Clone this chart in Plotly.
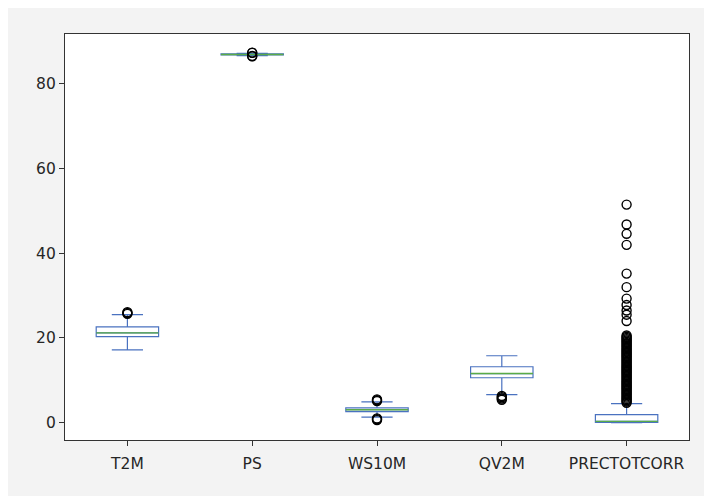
import plotly.graph_objects as go

# ---- data ----
categories = ["T2M", "PS", "WS10M", "QV2M", "PRECTOTCORR"]
q1 = [20.3, 86.85, 2.6, 10.6, 0.05]
median = [21.2, 86.97, 3.05, 11.6, 0.3]
q3 = [22.6, 87.1, 3.5, 13.2, 1.9]
lower_whisker = [17.2, 86.7, 1.3, 6.6, 0.0]
upper_whisker = [25.5, 87.25, 4.9, 15.8, 4.5]

outliers_t2m = [25.7, 25.9, 26.1]
outliers_ps = [86.55, 86.6, 87.35, 87.4]
outliers_ws10m = [0.6, 0.8, 1.0, 5.1, 5.3, 5.5]
outliers_qv2m = [5.4, 5.7, 6.0, 6.3]
outliers_prec = [4.7, 5.0, 5.3, 5.6, 5.9, 6.2, 6.5, 6.8, 7.1, 7.4, 7.7, 8.0,
                 8.3, 8.6, 8.9, 9.2, 9.5, 9.8, 10.1, 10.4, 10.7, 11.0, 11.3,
                 11.6, 11.9, 12.2, 12.5, 12.8, 13.1, 13.4, 13.7, 14.0, 14.3,
                 14.6, 14.9, 15.2, 15.5, 15.8, 16.1, 16.4, 16.7, 17.0, 17.3,
                 17.6, 17.9, 18.2, 18.5, 18.8, 19.1, 19.4, 19.7, 20.0, 20.3,
                 20.6, 24.0, 25.5, 26.5, 27.8, 29.3, 32.0, 35.2, 42.0, 44.6,
                 46.8, 51.5]
outliers = [outliers_t2m, outliers_ps, outliers_ws10m, outliers_qv2m, outliers_prec]

y_ticks = [0, 20, 40, 60, 80]

BLUE = "#4a72c0"
GREEN = "#5aab48"
BOX_W = 0.5

positions = list(range(1, len(categories) + 1))

fig = go.Figure()

for i, pos in enumerate(positions):
    fig.add_trace(go.Box(
        x=[pos], q1=[q1[i]], median=[median[i]], q3=[q3[i]],
        lowerfence=[lower_whisker[i]], upperfence=[upper_whisker[i]],
        width=BOX_W, whiskerwidth=0.5, boxpoints=False,
        fillcolor="rgba(0,0,0,0)", line=dict(color=BLUE, width=1.2),
        showlegend=False, hoverinfo="skip",
    ))

for i, pos in enumerate(positions):
    fig.add_trace(go.Scatter(
        x=[pos - BOX_W / 2, pos + BOX_W / 2], y=[median[i], median[i]],
        mode="lines", line=dict(color=GREEN, width=1.4),
        showlegend=False, hoverinfo="skip",
    ))

for i, pos in enumerate(positions):
    fig.add_trace(go.Scatter(
        x=[pos] * len(outliers[i]), y=outliers[i], mode="markers",
        marker=dict(symbol="circle-open", size=9, color="black",
                    line=dict(color="black", width=1.4)),
        showlegend=False, hoverinfo="skip",
    ))

fig.update_layout(
    width=712, height=496,
    margin=dict(l=57, r=31, t=26, b=64),
    paper_bgcolor="#f3f3f3", plot_bgcolor="white",
    font=dict(family="DejaVu Sans", size=15.5, color="#262626"),
    hovermode=False,
)

fig.update_xaxes(
    range=[0.5, 5.5], tickmode="array", tickvals=positions, ticktext=categories,
    showgrid=False, zeroline=False, showline=True, linecolor="#333333",
    linewidth=1.1, mirror=True, ticks="outside", ticklen=5, tickcolor="#333333",
    tickwidth=1, ticklabelstandoff=4,
)
fig.update_yaxes(
    range=[-4.1, 91.8], tickmode="array", tickvals=y_ticks,
    showgrid=False, zeroline=False, showline=True, linecolor="#333333",
    linewidth=1.1, mirror=True, ticks="outside", ticklen=5, tickcolor="#333333",
    tickwidth=1,
)

fig.write_html("out.html")
